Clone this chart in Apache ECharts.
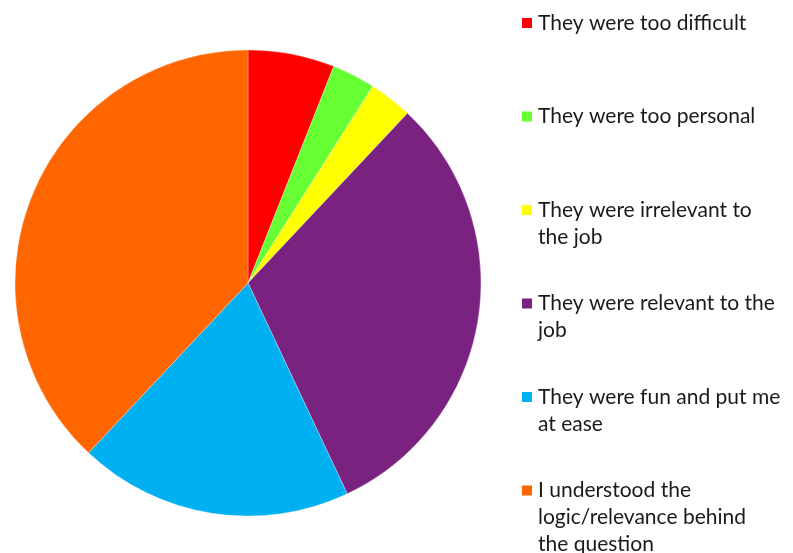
<!DOCTYPE html>
<html>
<head>
<meta charset="utf-8">
<script src="https://cdn.jsdelivr.net/npm/echarts@6/dist/echarts.min.js"></script>
<style>html,body{margin:0;padding:0;background:#fff;}#c{width:793px;height:553px;}</style>
</head>
<body>
<div id="c"></div>
<script>
const categories = [
  'They were too difficult',
  'They were too personal',
  'They were irrelevant to the job',
  'They were relevant to the job',
  'They were fun and put me at ease',
  'I understood the logic/relevance behind the question'
];
const legendLines = [
  ['They were too difficult'],
  ['They were too personal'],
  ['They were irrelevant to', 'the job'],
  ['They were relevant to the', 'job'],
  ['They were fun and put me', 'at ease'],
  ['I understood the', 'logic/relevance behind', 'the question']
];
const values = [6, 3, 3, 31, 19, 38];
const colors = ['#FF0000', '#66FF33', '#FFFF00', '#7A2280', '#00B0F0', '#FF6600'];

const LH = 27;
const FS = 21;
const chart = echarts.init(document.getElementById('c'), null, {renderer: 'canvas'});
const rich = {};
legendLines.forEach((lines, i) => {
  const n = lines.length;
  rich['r' + i] = {
    fontFamily: 'Lato', fontSize: FS, color: '#1a1a1a', lineHeight: LH,
    padding: [2 * LH, 0, (3 - n) * LH, 0]
  };
});
chart.setOption({
  animation: false,
  color: colors,
  legend: {
    orient: 'vertical',
    left: 520,
    top: 26 - 2.5 * LH,
    height: 1500,
    padding: 0,
    itemWidth: 12,
    itemHeight: 12,
    itemGap: 99.5 - 5 * LH,
    icon: 'rect',
    data: categories,
    formatter: function (name) {
      const i = categories.indexOf(name);
      return '{r' + i + '|' + legendLines[i].join('\n') + '}';
    },
    textStyle: { fontFamily: 'Lato', fontSize: FS, color: '#1a1a1a', rich: rich }
  },
  series: [{
    type: 'pie',
    center: [248, 283],
    radius: 233,
    startAngle: 90,
    clockwise: true,
    label: { show: false },
    labelLine: { show: false },
    itemStyle: { borderColor: '#ffffff', borderWidth: 0.3 },
    emphasis: { disabled: true },
    data: categories.map((c, i) => ({ name: c, value: values[i] }))
  }]
});
</script>
</body>
</html>
